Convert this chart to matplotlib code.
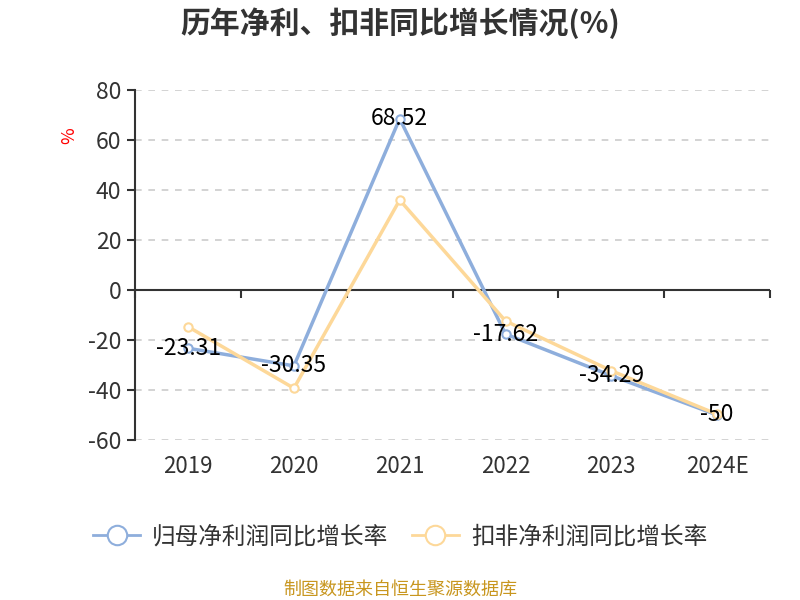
import matplotlib
matplotlib.use("Agg")
import matplotlib.pyplot as plt
from matplotlib.lines import Line2D

plt.rcParams['font.family'] = ['Noto Sans CJK SC', 'DejaVu Sans']
plt.rcParams['axes.unicode_minus'] = False

years = ["2019", "2020", "2021", "2022", "2023", "2024E"]
net_profit_yoy = [-23.31, -30.35, 68.52, -17.62, -34.29, -50]
deducted_yoy = [-14.7, -39.3, 36.0, -12.4, -32.3, -49.7]
net_labels = ["-23.31", "-30.35", "68.52", "-17.62", "-34.29", "-50"]

BLUE = "#8eaedc"
ORANGE = "#fdd899"
TXT = "#333333"

fig = plt.figure(figsize=(8, 6), dpi=100)
ax = fig.add_axes([0.169, 0.2667, 0.7935, 0.5833])

x = list(range(len(years)))
ax.plot(x, net_profit_yoy, color=BLUE, lw=2.5, marker="o", ms=6,
        mfc="white", mec=BLUE, mew=1.5, zorder=3)
ax.plot(x, deducted_yoy, color=ORANGE, lw=2.5, marker="o", ms=6,
        mfc="white", mec=ORANGE, mew=1.5, zorder=4)

for xi, v, s in zip(x, net_profit_yoy, net_labels):
    ax.text(xi, v, s, ha="center", va="center", fontsize=16.5,
            color="black", zorder=5)

ax.set_xlim(-0.5, len(years) - 0.5)
ax.set_ylim(-60, 80)
ax.set_yticks(range(-60, 81, 20))
ax.grid(axis="y", ls=(0, (4, 4)), color="#cccccc", lw=1.2)
ax.set_axisbelow(True)

for sp in ["top", "right", "bottom"]:
    ax.spines[sp].set_visible(False)
ax.spines["left"].set_color(TXT)
ax.spines["left"].set_linewidth(1.5)
ax.tick_params(axis="y", length=6, width=1.5, color=TXT,
               labelsize=16.5, labelcolor=TXT, pad=4)

ax.set_xticks(x)
ax.set_xticklabels(years)
ax.tick_params(axis="x", length=0, labelsize=16, labelcolor=TXT, pad=11)

# zero axis line with boundary ticks
ax.axhline(0, color=TXT, lw=1.5, zorder=2)
sec = ax.secondary_xaxis(60 / 140)
sec.set_xticks([i - 0.5 for i in range(len(years) + 1)])
sec.set_xticklabels([])
sec.spines["bottom"].set_visible(False)
sec.tick_params(axis="x", length=6, width=1.5, color=TXT, direction="out")

ax.set_ylabel("%", color="red", fontsize=13, rotation=90)
ax.yaxis.set_label_coords(-0.09, 0.87)

fig.text(0.5, 0.962, "历年净利、扣非同比增长情况(%)", ha="center", va="center",
         fontsize=21.5, fontweight="bold", color=TXT)

handles = [
    Line2D([], [], color=BLUE, lw=2, marker="o", ms=14, mfc="white",
           mec=BLUE, mew=1.5),
    Line2D([], [], color=ORANGE, lw=2, marker="o", ms=14, mfc="white",
           mec=ORANGE, mew=1.5),
]
fig.legend(handles, ["归母净利润同比增长率", "扣非净利润同比增长率"],
           loc="center", bbox_to_anchor=(0.5, 0.105), ncol=2, frameon=False,
           fontsize=17, labelcolor=TXT, handlelength=2.0, columnspacing=1.0,
           handletextpad=0.5)

fig.text(0.5, 0.018, "制图数据来自恒生聚源数据库", ha="center", va="center",
         fontsize=13, color="#c8961e")

fig.savefig("out.png", dpi=100)
